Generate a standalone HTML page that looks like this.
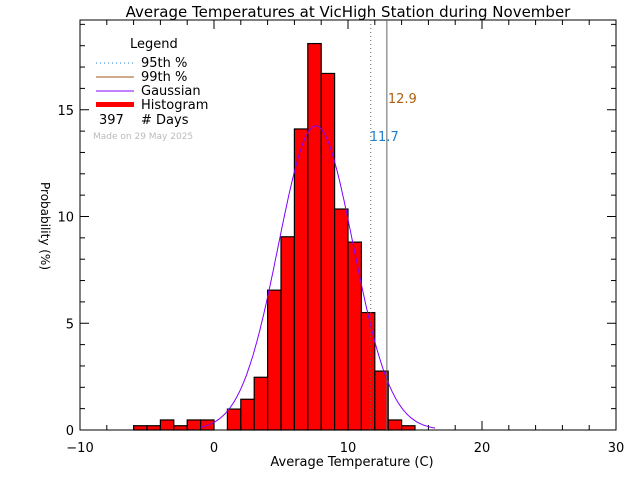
<!DOCTYPE html>
<html><head><meta charset="utf-8"><style>
body{margin:0;background:#fff}
svg{display:block;font-family:"DejaVu Sans","Liberation Sans",sans-serif}
</style></head><body>
<svg id="chart" width="640" height="480" viewBox="0 0 640 480">
<text x="348" y="17" text-anchor="middle" font-size="15">Average Temperatures at VicHigh Station during November</text>
<g id="bars"></g>
<g id="axes"></g>
<path id="gauss" fill="none" stroke="#8000ff" stroke-width="1"/>
<line id="p95" stroke="#666" stroke-dasharray="1,3"/>
<line id="p99" stroke="#666"/>
<text id="p99t" font-size="13" fill="#b06010"></text>
<text id="p95t" font-size="13" fill="#1e7fd0"></text>
<text x="352" y="466" text-anchor="middle" font-size="13">Average Temperature (C)</text>
<text transform="translate(41,226) rotate(90)" text-anchor="middle" font-size="12">Probability  (%)</text>
<g font-size="13">
<text x="130" y="48">Legend</text>
<line x1="96" y1="63" x2="134" y2="63" stroke="#1e7fd0" stroke-dasharray="1,3"/>
<text x="141" y="67">95th %</text>
<line x1="96" y1="77" x2="134" y2="77" stroke="#a0581a"/>
<text x="141" y="81">99th %</text>
<line x1="96" y1="91" x2="134" y2="91" stroke="#8000ff"/>
<text x="141" y="95">Gaussian</text>
<rect x="96" y="102" width="38" height="5" fill="#f00"/>
<text x="141" y="109">Histogram</text>
<text x="99" y="124">397</text>
<text x="141" y="124"># Days</text>
<text x="93" y="139" font-size="9" fill="#bbb">Made on 29 May 2025</text>
</g>
</svg>
<script>
const binStarts=[-6,-5,-4,-3,-2,-1,0,1,2,3,4,5,6,7,8,9,10,11,12,13,14];
const binValues=[0.2,0.2,0.47,0.2,0.47,0.47,0,0.98,1.44,2.47,6.55,9.05,14.1,18.1,16.7,10.35,8.8,5.5,2.76,0.47,0.2];
const xTicks=[-10,0,10,20,30];
const yTicks=[0,5,10,15];
const gaussMean=7.6, gaussSigma=2.8, gaussArea=100;
const pct95=11.7, pct99=12.9;
const L=80,R=616,T=20,B=430,xmin=-10,xmax=30,ymax=(430-20)/21.35;
const X=v=>L+(v-xmin)/(xmax-xmin)*(R-L);
const Y=v=>B-v/ymax*(B-T);
const NS='http://www.w3.org/2000/svg';
function mk(t,a,p){const e=document.createElementNS(NS,t);for(const k in a)e.setAttribute(k,a[k]);p.appendChild(e);return e;}
const bars=document.getElementById('bars');
binStarts.forEach((s,i)=>{if(binValues[i]<=0)return;
const r=mk('rect',{x:X(s),y:Y(binValues[i]),width:X(s+1)-X(s),height:B-Y(binValues[i]),fill:'#f00',stroke:'#000','stroke-width':1.2},bars);

});
const ax=document.getElementById('axes');
const box=mk('rect',{x:L,y:T,width:R-L,height:B-T,fill:'none',stroke:'#000'},ax);


for(let v=xmin;v<=xmax;v+=2){const big=v%10===0,len=big?9:5;
mk('line',{x1:X(v),y1:B,x2:X(v),y2:B-len,stroke:'#000'},ax);mk('line',{x1:X(v),y1:T,x2:X(v),y2:T+len,stroke:'#000'},ax);}
xTicks.forEach(v=>{const t=mk('text',{x:X(v),y:452,'text-anchor':'middle','font-size':13},ax);t.textContent=(v<0?'\u2212':'')+Math.abs(v);

});
for(let v=0;v<=ymax;v+=1){const big=v%5===0,len=big?9:5;
mk('line',{x1:L,y1:Y(v),x2:L+len,y2:Y(v),stroke:'#000'},ax);mk('line',{x1:R,y1:Y(v),x2:R-len,y2:Y(v),stroke:'#000'},ax);}
yTicks.forEach(v=>{const t=mk('text',{x:74,y:Y(v)+5,'text-anchor':'end','font-size':13},ax);t.textContent=v;

});
let d='';for(let x=-1;x<=16.5;x+=0.1){const g=gaussArea/(gaussSigma*Math.sqrt(2*Math.PI))*Math.exp(-((x-gaussMean)**2)/(2*gaussSigma**2));d+=(d?'L':'M')+X(x).toFixed(1)+','+Y(g).toFixed(1);}
document.getElementById('gauss').setAttribute('d',d);
const p95=document.getElementById('p95');p95.setAttribute('x1',X(pct95));p95.setAttribute('x2',X(pct95));p95.setAttribute('y1',T);p95.setAttribute('y2',B);
const p99=document.getElementById('p99');p99.setAttribute('x1',X(pct99));p99.setAttribute('x2',X(pct99));p99.setAttribute('y1',T);p99.setAttribute('y2',B);
const t99=document.getElementById('p99t');t99.setAttribute('x',X(pct99)+1);t99.setAttribute('y',103);t99.textContent=pct99.toFixed(1);
const t95=document.getElementById('p95t');t95.setAttribute('x',X(pct95)-1);t95.setAttribute('y',141);t95.textContent=pct95.toFixed(1);
</script>
</body></html>
